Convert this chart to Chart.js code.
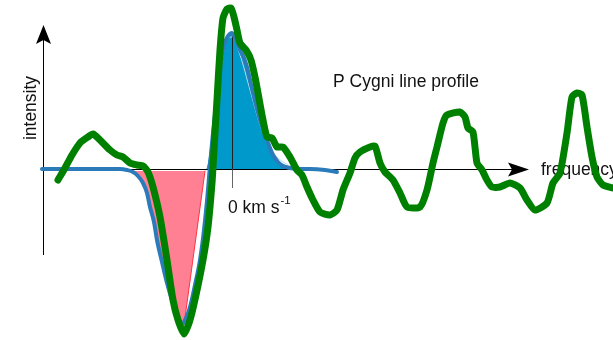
<!DOCTYPE html>
<html lang="en">
<head>
    <meta charset="UTF-8">
    <title>P Cygni line profile</title>
    <style>
        body { margin: 0; background: #fff; }
        canvas { display: block; }
    </style>
    <script src="https://cdn.jsdelivr.net/npm/chart.js"></script>
</head>
<body>
    <canvas id="chart" width="613" height="340"></canvas>

    <script>
        // observed spectrum (green, noisy)
        const observedX = [58, 65, 72, 80, 88, 93, 100, 110, 117, 123, 130, 137, 143, 148, 153, 160, 167, 173, 178, 184,
            190, 196, 203, 208, 212, 214, 217, 220, 223, 227, 231, 234, 237, 240, 246, 251, 255, 258, 263, 267,
            272, 277, 283, 290, 297, 302, 307, 313, 320, 330, 337, 343, 350, 355, 360, 370, 375, 380, 385, 393,
            400, 407, 420, 427, 433, 437, 443, 447, 460, 465, 468, 473, 477, 482, 487, 492, 500, 510, 520, 527,
            535, 547, 553, 560, 567, 572, 577, 582, 587, 592, 597, 603, 613];
        const observedY = [-11, 1, 14, 26, 32, 35, 29, 19, 14, 12, 6, 4, 3, -3, -18, -48, -91, -131, -151, -165,
            -151, -126, -91, -58, -14, 19, 69, 119, 151, 160, 161, 152, 139, 126, 119, 109, 92, 76, 49, 32,
            31, 22, 22, 12, -1, -6, -18, -31, -43, -46, -41, -21, -4, 11, 17, 22, 23, 6, -3, -11,
            -24, -38, -38, -21, 6, 22, 46, 54, 57, 52, 41, 37, 6, -1, -11, -18, -18, -14, -19, -31,
            -41, -34, -14, -4, 36, 72, 76, 74, 42, 12, -8, -16, -19];

        // model profile (blue, smooth)
        const modelX = [42, 100, 120, 127, 133, 138, 143, 147, 150, 154, 157, 162, 167, 172, 177, 182, 186, 190, 195, 200,
            204, 208, 210, 213, 217, 220, 224, 228, 232, 236, 240, 244, 247, 253, 260, 267, 273, 278, 283, 290,
            297, 310, 325, 337];
        const modelY = [0, 0, 0, -1, -3, -7, -14, -24, -38, -53, -71, -93, -114, -131, -144, -155, -149, -138, -116, -91,
            -61, -21, 4, 36, 74, 102, 124, 133, 136, 129, 119, 111, 102, 76, 49, 29, 14, 7, 3, 1,
            0, 0, -1, -3];

        // absorption trough (red fill)
        const absorptionX = [130, 133, 138, 143, 147, 150, 154, 157, 162, 167, 172, 177, 182, 184, 205];
        const absorptionY = [-2, -3, -7, -14, -24, -38, -53, -71, -93, -114, -131, -144, -155, -156, -2];

        // emission peak (blue fill)
        const emissionX = [207, 209, 212, 216, 220, 225, 229, 232, 236, 241, 247, 253, 259, 265, 271, 277, 284, 291, 297];
        const emissionY = [0, 9, 34, 69, 101, 124, 132, 134, 127, 116, 100, 75, 50, 31, 17, 9, 4, 2, 0];

        // thin highlight inside the emission fill
        const highlightX = [222, 226, 232, 240, 250, 260, 268, 278, 290, 297];
        const highlightY = [109, 127, 132, 114, 79, 44, 24, 11, 3, 0];

        const toPoints = (xs, ys) => xs.map((x, i) => ({ x: x, y: ys[i] }));

        const font = '"Liberation Sans", Arial, sans-serif';

        const decorations = {
            id: 'decorations',
            beforeDatasetsDraw(chart) {
                const ctx = chart.ctx;
                ctx.save();
                ctx.fillStyle = '#111';
                ctx.font = '17.5px ' + font;
                ctx.textBaseline = 'alphabetic';
                ctx.fillText('P Cygni line profile', 333, 87);
                ctx.fillText('frequency', 541, 175);

                ctx.fillText('0 km s', 228, 213);
                const w = ctx.measureText('0 km s').width;
                ctx.font = '11.5px ' + font;
                ctx.fillText('-1', 228 + w + 1, 204);

                ctx.translate(36, 108);
                ctx.rotate(-Math.PI / 2);
                ctx.font = '17.5px ' + font;
                ctx.textAlign = 'center';
                ctx.fillText('intensity', 0, 0);
                ctx.restore();
            },
            beforeDatasetDraw(chart, args) {
                if (args.index !== 1) return;
                const ctx = chart.ctx;
                const xs = chart.scales.x;
                const ys = chart.scales.y;
                const ax = Math.round(xs.getPixelForValue(43)) + 0.5;
                const ay = Math.round(ys.getPixelForValue(0)) + 0.5;
                ctx.save();
                ctx.strokeStyle = '#000';
                ctx.fillStyle = '#000';
                ctx.lineWidth = 1;

                // y axis
                ctx.beginPath();
                ctx.moveTo(ax, ys.getPixelForValue(-86));
                ctx.lineTo(ax, ys.getPixelForValue(130));
                ctx.stroke();
                const tipY = ys.getPixelForValue(144);
                ctx.beginPath();
                ctx.moveTo(ax, tipY);
                ctx.lineTo(ax + 7.5, tipY + 19);
                ctx.lineTo(ax, tipY + 15);
                ctx.lineTo(ax - 7.5, tipY + 19);
                ctx.closePath();
                ctx.fill();

                // x axis
                ctx.beginPath();
                ctx.moveTo(ax, ay);
                ctx.lineTo(xs.getPixelForValue(512), ay);
                ctx.stroke();
                const tipX = xs.getPixelForValue(529);
                ctx.beginPath();
                ctx.moveTo(tipX, ay);
                ctx.lineTo(tipX - 21, ay - 7);
                ctx.lineTo(tipX - 17, ay);
                ctx.lineTo(tipX - 21, ay + 7);
                ctx.closePath();
                ctx.fill();

                // line centre marker
                const tx = Math.round(xs.getPixelForValue(232)) + 0.5;
                ctx.strokeStyle = '#222';
                ctx.beginPath();
                ctx.moveTo(tx, ys.getPixelForValue(134));
                ctx.lineTo(tx, ay);
                ctx.stroke();
                ctx.strokeStyle = '#666';
                ctx.beginPath();
                ctx.moveTo(tx, ay);
                ctx.lineTo(tx, ys.getPixelForValue(-19));
                ctx.stroke();
                ctx.restore();
            }
        };

        const ctx = document.getElementById('chart').getContext('2d');
        new Chart(ctx, {
            type: 'line',
            data: {
                datasets: [
                    {
                        label: 'observed',
                        data: toPoints(observedX, observedY),
                        borderColor: '#008000',
                        borderWidth: 7,
                        tension: 0.2,
                        fill: false,
                    },
                    {
                        label: 'model',
                        data: toPoints(modelX, modelY),
                        borderColor: '#2b7bba',
                        borderWidth: 4,
                        cubicInterpolationMode: 'monotone',
                        fill: false,
                    },
                    {
                        label: 'highlight',
                        data: toPoints(highlightX, highlightY),
                        borderColor: '#b9dcec',
                        borderWidth: 1,
                        cubicInterpolationMode: 'monotone',
                        fill: false,
                    },
                    {
                        label: 'emission',
                        data: toPoints(emissionX, emissionY),
                        borderColor: '#0099cc',
                        borderWidth: 1,
                        backgroundColor: '#0099cc',
                        cubicInterpolationMode: 'monotone',
                        fill: 'origin',
                    },
                    {
                        label: 'absorption',
                        data: toPoints(absorptionX, absorptionY),
                        borderColor: '#ff3344',
                        borderWidth: 1,
                        backgroundColor: '#ff8092',
                        tension: 0,
                        fill: { value: -2 },
                    },
                ],
            },
            options: {
                responsive: false,
                animation: false,
                devicePixelRatio: 1,
                layout: { padding: 0 },
                elements: {
                    point: { radius: 0, hoverRadius: 0 },
                    line: { borderJoinStyle: 'round', borderCapStyle: 'round' },
                },
                plugins: {
                    legend: { display: false },
                    tooltip: { enabled: false },
                },
                scales: {
                    x: { type: 'linear', min: 0, max: 613, display: false },
                    y: { type: 'linear', min: -171, max: 169, display: false },
                },
            },
            plugins: [decorations],
        });
    </script>
</body>
</html>
